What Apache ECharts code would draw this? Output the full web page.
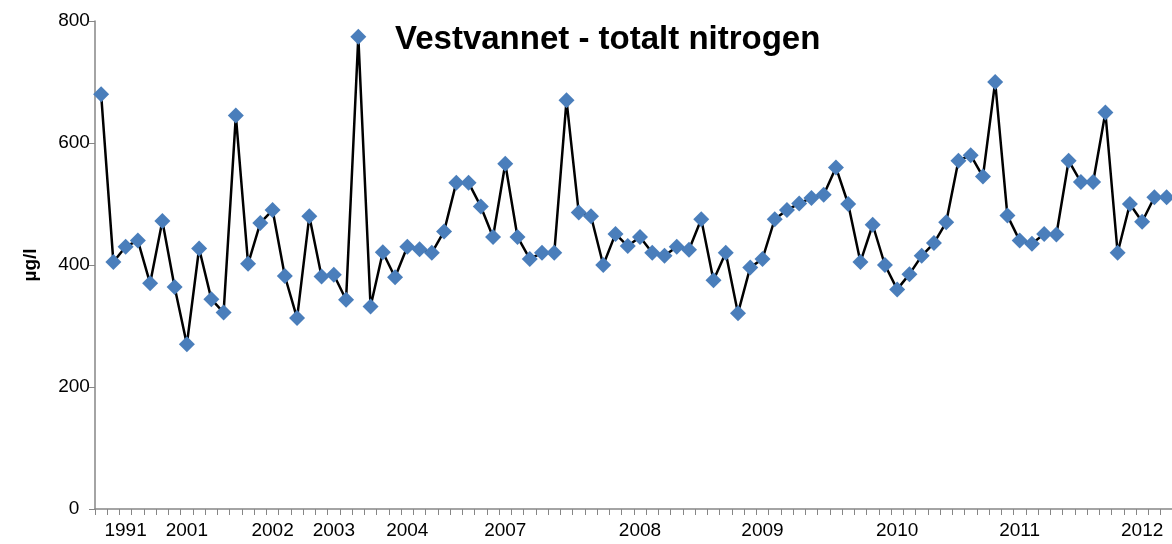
<!DOCTYPE html>
<html>
<head>
<meta charset="utf-8">
<script src="https://cdn.jsdelivr.net/npm/echarts@6/dist/echarts.min.js"></script>
<style>
  html, body { margin: 0; padding: 0; background: #fff; }
  #chart { width: 1172px; height: 544px; }
</style>
</head>
<body>
<div id="chart"></div>
<script>
// totalt nitrogen, µg/l, one value per sample
const nitrogen = [
  680, 405, 430, 440, 370, 472, 364, 270, 427, 344,
  322, 645, 402, 469, 490, 382, 313, 480, 381, 384,
  343, 774, 332, 421, 380, 430, 426, 420, 455, 535,
  535, 496, 446, 566, 446, 410, 420, 420, 670, 486,
  480, 400, 451, 431, 446, 420, 415, 430, 425, 475,
  375, 420, 321, 396, 410, 475, 490, 501, 510, 515,
  560, 500, 405, 466, 400, 360, 385, 415, 436, 470,
  571, 580, 545, 700, 481, 440, 435, 451, 450, 571,
  536, 536, 650, 420, 500, 471, 511, 511, 510
];

// year labels shown under the axis and the sample they sit under
const yearLabels = ['1991', '2001', '2002', '2003', '2004', '2007', '2008', '2009', '2010', '2011', '2012'];
const yearLabelAt = [2, 7, 14, 19, 25, 33, 44, 54, 65, 75, 85];

const yTicks = [0, 200, 400, 600, 800];

const categories = nitrogen.map(() => '');
yearLabelAt.forEach((idx, k) => { categories[idx] = yearLabels[k]; });

const chart = echarts.init(document.getElementById('chart'), null, { renderer: 'canvas' });

chart.setOption({
  animation: false,
  backgroundColor: '#ffffff',
  title: {
    text: 'Vestvannet - totalt nitrogen',
    left: 390,
    top: 18,
    textStyle: {
      fontFamily: 'Liberation Sans',
      fontWeight: 'bold',
      fontSize: 33,
      color: '#000'
    }
  },
  grid: { left: 95, top: 21, bottom: 35, right: -13, outerBoundsMode: 'none', containLabel: false },
  xAxis: {
    type: 'category',
    data: categories,
    boundaryGap: true,
    axisLine: { lineStyle: { color: '#868686', width: 1.5 } },
    axisTick: { show: true, interval: 0, length: 6, lineStyle: { color: '#868686' } },
    axisLabel: {
      interval: 0,
      margin: 12,
      fontFamily: 'Liberation Sans',
      fontSize: 19,
      color: '#000'
    },
    splitLine: { show: false }
  },
  yAxis: {
    type: 'value',
    min: yTicks[0],
    max: yTicks[yTicks.length - 1],
    interval: 200,
    name: 'µg/l',
    nameLocation: 'middle',
    nameGap: 55,
    nameRotate: 90,
    nameTextStyle: {
      fontFamily: 'Liberation Sans',
      fontWeight: 'bold',
      fontSize: 19,
      color: '#000'
    },
    axisLine: { show: true, lineStyle: { color: '#868686', width: 1.5 } },
    axisTick: { show: true, length: 6, lineStyle: { color: '#868686' } },
    axisLabel: {
      margin: 21,
      align: 'center',
      fontFamily: 'Liberation Sans',
      fontSize: 19,
      color: '#000'
    },
    splitLine: { show: false }
  },
  series: [{
    type: 'line',
    data: nitrogen,
    symbol: 'diamond',
    symbolSize: 16,
    showAllSymbol: true,
    lineStyle: { color: '#000', width: 2.5 },
    itemStyle: { color: '#4a7ebb' },
    z: 3
  }]
});
</script>
</body>
</html>
